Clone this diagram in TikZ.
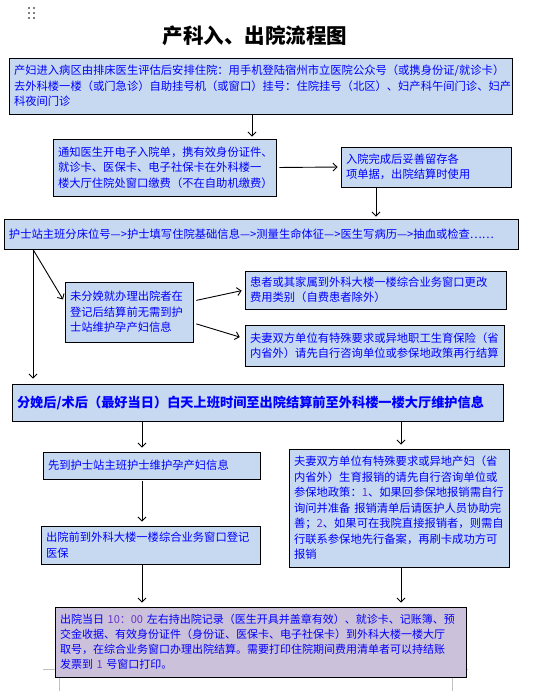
\documentclass[tikz,border=0pt]{standalone}
\usepackage{fontspec}
\setmainfont{Noto Sans CJK SC}
\usetikzlibrary{arrows.meta, positioning}
\definecolor{boxblue}{HTML}{C6D9F1}
\definecolor{boxlilac}{HTML}{CCC1DA}
\definecolor{textblue}{HTML}{0000FF}
\definecolor{numviolet}{HTML}{6633CC}
\definecolor{pagegray}{HTML}{C0C0C0}
\newcommand{\hinum}[1]{{\color{numviolet}#1}}

\begin{document}
\begin{tikzpicture}[
    x=1pt, y=-1pt,
    stepbox/.style={
        rectangle,
        draw=black, line width=0.9pt, fill=boxblue,
        text=textblue, align=left, inner xsep=5pt, inner ysep=2pt,
        font=\fontsize{11.3}{15.5}\selectfont
    },
    %% the last box is the only one with a lilac fill
    endbox/.style={stepbox, fill=boxlilac, font=\fontsize{11}{15}\selectfont},
    keybox/.style={stepbox, font=\fontsize{13.2}{16}\selectfont\bfseries},
    arrow/.style={
        -{Straight Barb[length=4pt, width=8pt]},
        line width=0.9pt, color=black, shorten >=2pt
    }
]
\useasboundingbox (0,0) rectangle (553,691);

%% ── Page marks ───────────────────────────────────────────────────────────────
\foreach \dx in {28,33}
    \foreach \dy in {7,12,17}
        \fill[gray] (\dx,\dy) rectangle ++(1.6,1.6);
\draw[pagegray, line width=0.8pt] (43,669) -- (468,669);
\draw[pagegray, line width=0.8pt] (59,677) -- (59,691);
\draw[pagegray, line width=0.8pt] (452,677) -- (452,691);

%% ── Title ────────────────────────────────────────────────────────────────────
\node[font=\fontsize{20.5}{24}\selectfont\bfseries] (title) at (255,36)
    {产科入、出院流程图};

%% ── Admission ────────────────────────────────────────────────────────────────
\node[stepbox, text width=493pt, minimum height=56pt] (intake) at (260.5,86)
    {产妇进入病区由排床医生评估后安排住院：用手机登陆宿州市立医院公众号（或携身份证/就诊卡）\\
     去外科楼一楼（或门急诊）自助挂号机（或窗口）挂号：住院挂号（北区）、妇产科午间门诊、妇产\\
     科夜间门诊};
\node[stepbox, text width=213pt, minimum height=57pt] (notify) at (164.5,167.5)
    {通知医生开电子入院单，携有效身份证件、\\
     就诊卡、医保卡、电子社保卡在外科楼一\\
     楼大厅住院处窗口缴费（不在自助机缴费）};
\node[stepbox, text width=160pt, minimum height=40pt] (keep) at (426,167)
    {入院完成后妥善留存各\\
     项单据，出院结算时使用};
\node[stepbox, text width=504pt, minimum height=30pt] (chain) at (261,234)
    {护士站主班分床位号—>护士填写住院基础信息—>测量生命体征—>医生写病历—>抽血或检查……};

%% ── Side branch ──────────────────────────────────────────────────────────────
\node[stepbox, text width=118pt, minimum height=60pt] (pending) at (129,312)
    {未分娩就办理出院者在\\
     登记后结算前无需到护\\
     士站维护孕产妇信息};
\node[stepbox, text width=251pt, minimum height=38pt] (relabel) at (375.5,290)
    {患者或其家属到外科大楼一楼综合业务窗口更改\\
     费用类别（自费患者除外）};
\node[stepbox, text width=249pt, minimum height=41pt] (insure) at (374.5,345.5)
    {夫妻双方单位有特殊要求或异地职工生育保险（省\\
     内省外）请先自行咨询单位或参保地政策再行结算};

%% ── Discharge ────────────────────────────────────────────────────────────────
\node[keybox, text width=481pt, minimum height=37pt] (daytime) at (257.5,402.5)
    {分娩后/术后（最好当日）白天上班时间至出院结算前至外科楼一楼大厅维护信息};
\node[stepbox, text width=207pt, minimum height=27pt] (nurse) at (151.5,465.5)
    {先到护士站主班护士维护孕产妇信息};
\node[stepbox, text width=209pt, minimum height=38pt] (register) at (150.5,545)
    {出院前到外科大楼一楼综合业务窗口登记\\
     医保};
\node[stepbox, text width=210pt, minimum height=118pt] (claim) at (399,508)
    {夫妻双方单位有特殊要求或异地产妇（省\\
     内省外）生育报销的请先自行咨询单位或\\
     参保地政策：\hinum{1}、如果回参保地报销需自行\\
     询问并准备 报销清单后请医护人员协助完\\
     善；\hinum{2}、如果可在我院直接报销者，则需自\\
     行联系参保地先行备案，再刷卡成功方可\\
     报销};
\node[endbox, text width=401pt, minimum height=70pt] (settle) at (260.5,642)
    {出院当日 \hinum{10：00} 左右持出院记录（医生开具并盖章有效）、就诊卡、记账簿、预\\
     交金收据、有效身份证件（身份证、医保卡、电子社保卡）到外科大楼一楼大厅\\
     取号，在综合业务窗口办理出院结算。需要打印住院期间费用清单者可以持结账\\
     发票到 \hinum{1} 号窗口打印。};

%% ── Arrows ───────────────────────────────────────────────────────────────────
\draw[arrow] (252,0 |- intake.south) -- (252,0 |- notify.north);
\draw[arrow, shorten <=3pt, shorten >=3pt] (notify.east) -- (keep.west);
\draw[arrow] (376,0 |- keep.south) -- (376,0 |- chain.north);

\draw[arrow, shorten >=3pt] (33,0 |- chain.south) -- ([yshift=10pt]pending.west);
\draw[arrow, shorten >=5pt] (33,0 |- chain.south) -- (33,0 |- daytime.north);
\draw[arrow, shorten <=3pt, shorten >=3pt] ([yshift=11pt]pending.east) -- (relabel.west);
\draw[arrow, shorten <=3pt, shorten >=5pt] ([yshift=-11pt]pending.east) -- ([yshift=7pt]insure.west);

\draw[arrow, shorten >=4pt] (142,0 |- daytime.south) -- (142,0 |- nurse.north);
\draw[arrow, shorten >=4pt] (401,0 |- daytime.south) -- (401,0 |- claim.north);
\draw[arrow, shorten <=2pt, shorten >=4pt] (142,0 |- nurse.south) -- (142,0 |- register.north);
\draw[arrow, shorten >=4pt] (142,0 |- register.south) -- (142,0 |- settle.north);
\draw[arrow, shorten >=4pt] (401,0 |- claim.south) -- (401,0 |- settle.north);

\end{tikzpicture}
\end{document}
